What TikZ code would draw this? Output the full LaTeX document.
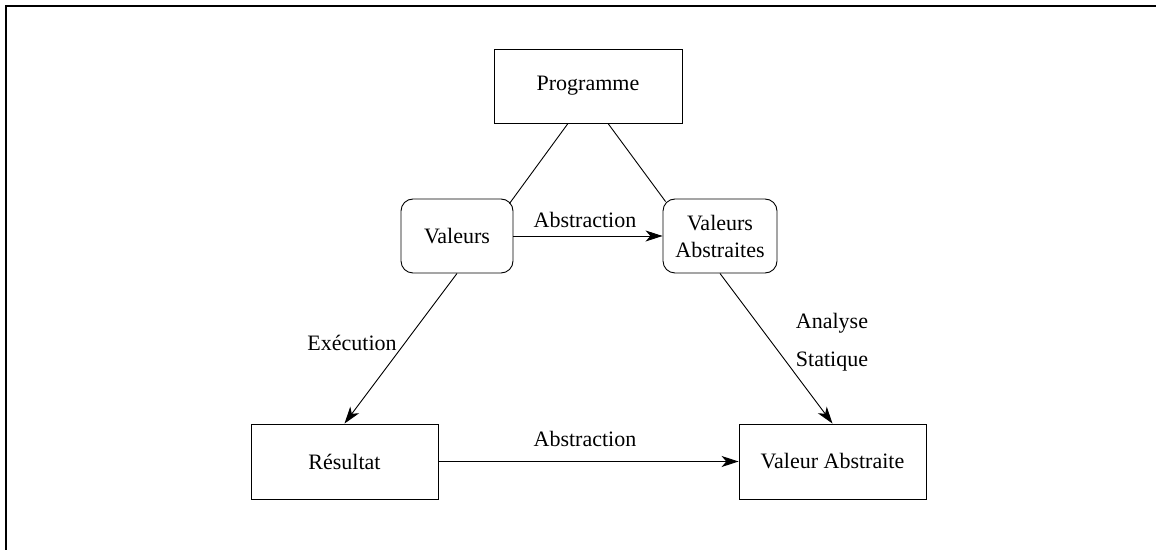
\documentclass[tikz,border=0pt]{standalone}
\usepackage{fontspec}
\setmainfont{Liberation Serif}
\usetikzlibrary{arrows.meta,calc}

\begin{document}
\begin{tikzpicture}[x=0.5pt,y=-0.5pt,
  every node/.style={font=\fontsize{11}{13.5}\selectfont, inner sep=0pt},
  sqbox/.style={draw, line width=0.45pt, minimum width=#1*0.5pt, minimum height=37.5pt},
  rbox/.style={draw, line width=0.45pt, rounded corners=6pt, minimum width=#1*0.5pt,
    minimum height=37pt, align=center},
  link/.style={line width=0.45pt},
  flow/.style={line width=0.45pt, -{Stealth[length=8.5pt,width=5.5pt,inset=2.4pt]}},
  lbl/.style={align=center}
]
\useasboundingbox (0,0) rectangle (1156,550);

% frame: top and left edges only
\draw[line width=1pt] (6,550) -- (6,6) -- (1156,6);

% boxes
\node[sqbox=188, minimum height=37pt] (prog) at (588,86) {Programme};
\node[rbox=112] (val) at (457,236) {Valeurs};
\node[rbox=114] (vabs) at (720,236) {Valeurs\\Abstraites};
\node[sqbox=187] (res) at (344.5,461.5) {Résultat};
\node[sqbox=187] (vaf) at (832.5,461.5) {Valeur Abstraite};

% links from the program
\coordinate (pl) at ($(prog.south)+(-20,0)$);
\coordinate (pr) at ($(prog.south)+(20,0)$);
\coordinate (vl) at ($(val.north east)+(-4,5)$);
\coordinate (vr) at ($(vabs.north west)+(3,3)$);
\draw[link] (pl) -- (vl);
\draw[link] (pr) -- (vr);

% arrows
\draw[flow] (val.east) -- (vabs.west);
\draw[flow] (res.east) -- (vaf.west);
\draw[flow] (val.south) -- (res.north);
\draw[flow] (vabs.south) -- (vaf.north);

% labels
\node[lbl] (abs1) at (585,220) {Abstraction};
\node[lbl] (abs2) at (585,439) {Abstraction};
\node[lbl] (exe) at (352,343) {Exécution};
\node[lbl] (ana) at (832,342) {Analyse\\[5.5pt]Statique};
\end{tikzpicture}
\end{document}
